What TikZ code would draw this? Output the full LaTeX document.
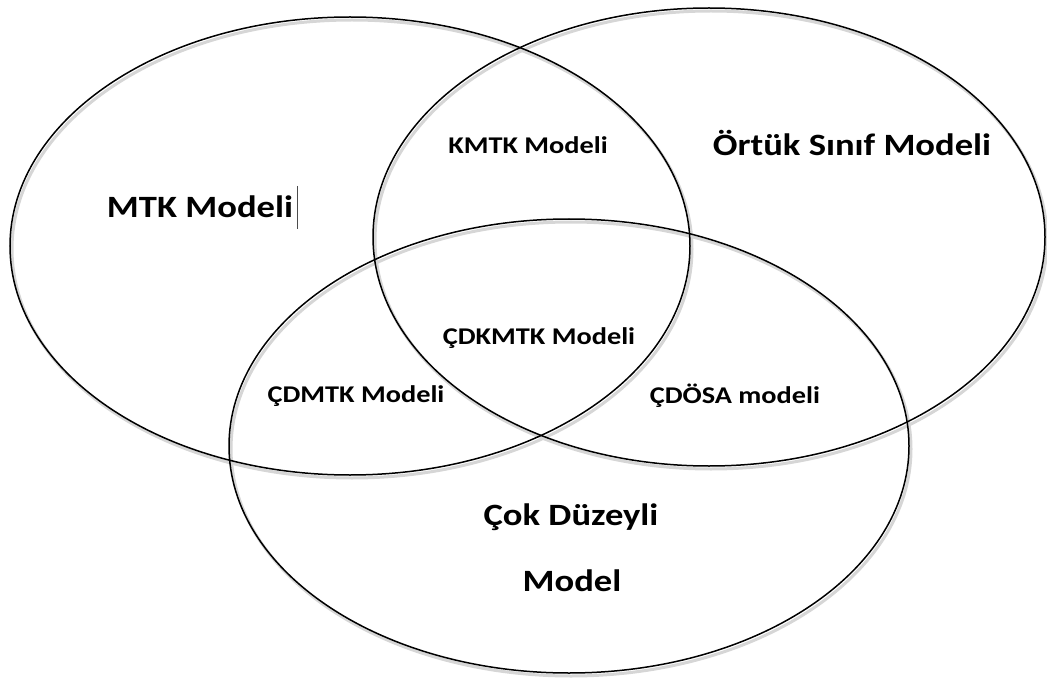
\documentclass[tikz,border=0pt]{standalone}
\usepackage{fontspec}
\setmainfont{Carlito}
% labels are set slightly wide
\newcommand{\widetext}[1]{\scalebox{1.18}[1]{#1}}
\begin{document}
\begin{tikzpicture}[x=1pt,y=-1pt,
  setring/.style={draw=black,line width=1.5pt},
  ringshadow/.style={draw=black!16,line width=3pt},
  biglabel/.style={font=\bfseries\fontsize{31}{36}\selectfont,inner sep=0pt},
  smalllabel/.style={font=\bfseries\fontsize{24}{28}\selectfont,inner sep=0pt}]
  \useasboundingbox (0,0) rectangle (1047,679);
  % soft shadows under the three sets
  \draw[ringshadow] (352,249) ellipse [x radius=340, y radius=229];
  \draw[ringshadow] (711,240) ellipse [x radius=336, y radius=229];
  \draw[ringshadow] (571,449) ellipse [x radius=340, y radius=227];
  % the three sets
  \draw[setring] (350,246) ellipse [x radius=340, y radius=229];
  \draw[setring] (709,237) ellipse [x radius=336, y radius=229];
  \draw[setring] (569,446) ellipse [x radius=340, y radius=227];
  % labels
  \node[biglabel] (mtk) at (200,207) {\widetext{MTK Modeli}};
  \draw[black!70,line width=0.8pt] (297,186) -- (297,229);
  \node[biglabel] (ortuk) at (852,143) {\widetext{Örtük Sınıf Modeli}};
  \node[smalllabel] (kmtk) at (528,145) {\widetext{KMTK Modeli}};
  \node[smalllabel] (cdkmtk) at (539,338) {\widetext{ÇDKMTK Modeli}};
  \node[smalllabel] (cdmtk) at (356,396) {\widetext{ÇDMTK Modeli}};
  \node[smalllabel] (cdosa) at (735,396) {\widetext{ÇDÖSA modeli}};
  \node[biglabel] (cok) at (571,517) {\widetext{Çok Düzeyli}};
  \node[biglabel] (model) at (572,581) {\widetext{Model}};
\end{tikzpicture}
\end{document}
